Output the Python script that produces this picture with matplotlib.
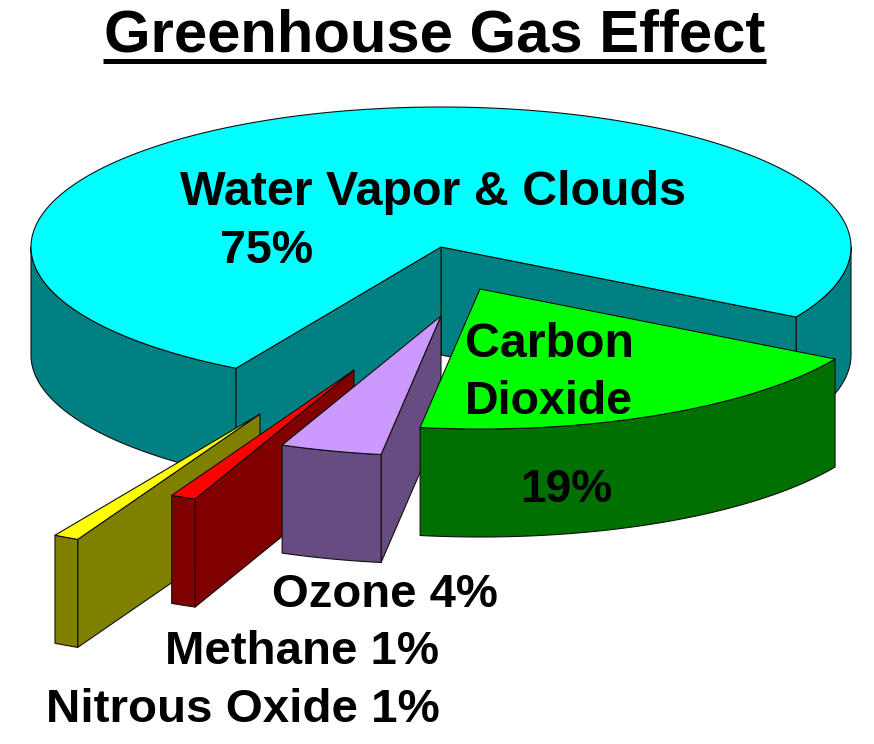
import numpy as np
import matplotlib
matplotlib.use('Agg')
import matplotlib.pyplot as plt
from matplotlib.patches import Polygon

# chart values
names = ['Water Vapor & Clouds', 'Carbon Dioxide', 'Ozone', 'Methane', 'Nitrous Oxide']
shares = [75, 19, 4, 1, 1]
top_colors = ['#00FFFF', '#00FF00', '#CC99FF', '#FF0000', '#FFFF00']
side_colors = ['#008080', '#007000', '#664C80', '#800000', '#808000']

# pie geometry in pixels
CX, CY = 441, 247
RX, RY = 410, 140
DEPTH = 108
START = -30
# how far each small slice is pulled out of the pie
explode = [(0, 0), (39, 42), (0, 69), (-87, 123), (-181, 167)]

plt.rcParams['font.family'] = ['Liberation Sans', 'DejaVu Sans']


def point(theta, off=(0, 0), drop=0):
    t = np.radians(theta)
    return (CX + off[0] + RX * np.cos(t), CY + off[1] - RY * np.sin(t) + drop)


def arc(a, b, off=(0, 0), drop=0):
    n = max(int(abs(b - a)) * 2, 2)
    return [point(t, off, drop) for t in np.linspace(a, b, n)]


def face(ax, pts, color, z):
    ax.add_patch(Polygon(pts, closed=True, facecolor=color, edgecolor='#101010',
                         lw=0.8, joinstyle='round', zorder=z))


def wall(ax, theta, off, color, z):
    apex = (CX + off[0], CY + off[1])
    p = point(theta, off)
    face(ax, [apex, p, (p[0], p[1] + DEPTH), (apex[0], apex[1] + DEPTH)], color, z)


def rim(ax, a, b, off, color, z):
    face(ax, arc(a, b, off) + arc(b, a, off, DEPTH), color, z)


def top(ax, a, b, off, color, z):
    apex = (CX + off[0], CY + off[1])
    face(ax, [apex] + arc(a, b, off), color, z)


def draw_main(ax, a, b):
    # a is the right edge of the big slice, b the front-left edge
    rim(ax, 180, b, (0, 0), side_colors[0], 1)
    rim(ax, a + 360, 360, (0, 0), side_colors[0], 1)
    wall(ax, a, (0, 0), side_colors[0], 1)
    wall(ax, b, (0, 0), side_colors[0], 1)
    top(ax, a, b, (0, 0), top_colors[0], 2)


def draw_slices(ax):
    sweep = [s * 3.6 for s in shares]
    draw_main(ax, START, START + sweep[0])
    end = START
    for i in range(1, len(shares)):
        a, b = end - sweep[i], end
        # carbon dioxide sits in front of everything else
        z = 3 + (5 - i) * 2
        off = explode[i]
        if i > 1:
            # the thin slices show their right hand wall
            wall(ax, b, off, side_colors[i], z)
        rim(ax, a, b, off, side_colors[i], z)
        top(ax, a, b, off, top_colors[i], z + 1)
        end = a


def draw_text(ax):
    ax.text(104, 52, 'Greenhouse Gas Effect', fontsize=43, fontweight='bold', zorder=20)
    ax.plot([103, 766], [60.5, 60.5], color='black', lw=3.6, solid_capstyle='butt', zorder=20)
    ax.text(180, 205, names[0], fontsize=34.8, fontweight='bold', zorder=20)
    ax.text(220, 263, '%d%%' % shares[0], fontsize=33.6, fontweight='bold', zorder=20)
    ax.text(465, 357, 'Carbon', fontsize=34.8, fontweight='bold', zorder=20)
    ax.text(465, 414, 'Dioxide', fontsize=33.5, fontweight='bold', zorder=20)
    ax.text(520, 502, '%d%%' % shares[1], fontsize=33.2, fontweight='bold', zorder=20)
    ax.text(272, 607, '%s %d%%' % (names[2], shares[2]), fontsize=34, fontweight='bold', zorder=20)
    ax.text(165, 664, '%s %d%%' % (names[3], shares[3]), fontsize=34.1, fontweight='bold', zorder=20)
    ax.text(46, 722, '%s %d%%' % (names[4], shares[4]), fontsize=34.2, fontweight='bold', zorder=20)


if __name__ == '__main__':
    fig = plt.figure(figsize=(8.74, 7.44), dpi=100)
    ax = fig.add_axes([0, 0, 1, 1])
    ax.set_xlim(0, 874)
    ax.set_ylim(744, 0)
    ax.axis('off')
    draw_slices(ax)
    draw_text(ax)
    fig.savefig('out.png', dpi=100, facecolor='white')
